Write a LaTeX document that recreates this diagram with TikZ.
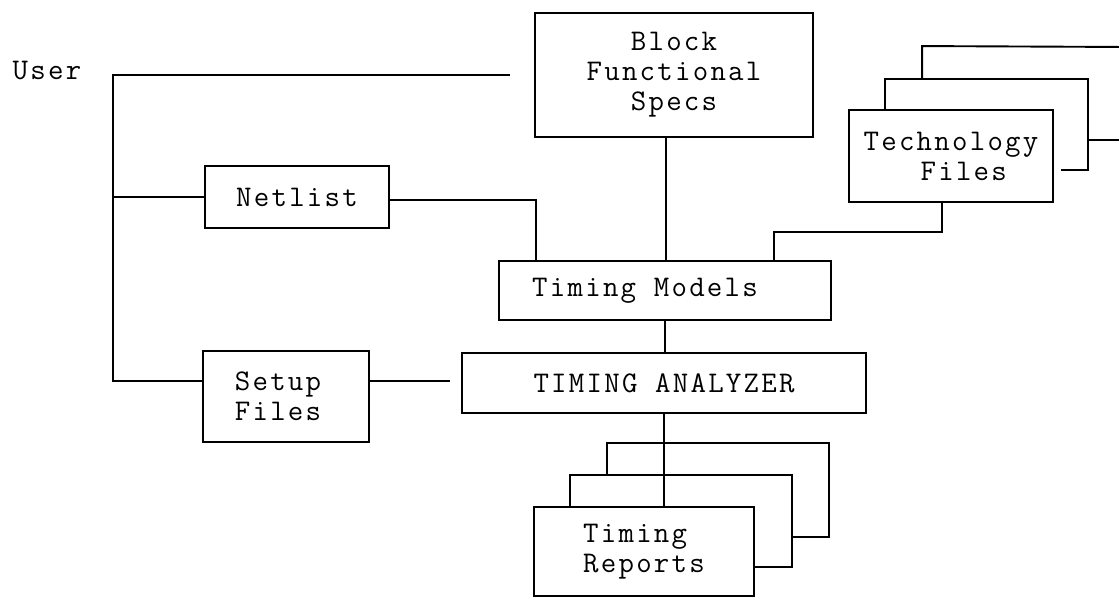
\documentclass[tikz,border=0pt]{standalone}
\usepackage{fontspec}
\newfontfamily\twfont[LetterSpace=7.5]{Latin Modern Mono}
\begin{document}
\begin{tikzpicture}[x=1pt,y=-1pt,
  line width=1.9pt,
  every node/.style={font=\twfont\fontsize{30}{30}\selectfont},
  box/.style={draw, line width=1.9pt, inner sep=0pt, align=center},
  lbl/.style={inner sep=0pt}]
\useasboundingbox (0,0) rectangle (1119,598);
% labels
\node[lbl] (user) at (47,71) {User};
% boxes
\node[box, minimum width=278pt, minimum height=124pt] (blk) at (674,75) {Block\\Functional\\Specs};
\node[box, minimum width=184pt, minimum height=62pt] (net) at (297,197) {Netlist};
\node[box, minimum width=204pt, minimum height=92pt, align=left] (tf) at (951,156) {Technology\\\hspace*{57pt}Files};
\node[box, minimum width=332pt, minimum height=59pt] (tm) at (665,290.5) {Timing Models\hspace*{40pt}};
\node[box, minimum width=404pt, minimum height=60pt] (ta) at (664,383) {TIMING ANALYZER};
\node[box, minimum width=166pt, minimum height=91pt, align=left] (setup) at (286,396.5) {Setup\\Files\hspace*{16pt}};
\node[box, minimum width=220pt, minimum height=89pt, align=left] (tr) at (644,551.5) {Timing\\Reports};
% free ends
\coordinate (uend) at (510,75);
\coordinate (bustop) at (113,75);
\coordinate (taend) at (450,381);
% user bus
\draw (uend) -- (bustop) |- ([yshift=15.5pt]setup.west);
\draw (bustop |- net.west) -- (net.west);
\draw ([yshift=15.5pt]setup.east) -- (taend);
% into timing models
\draw ([yshift=-3pt]net.east) -| ([xshift=38pt]tm.north west);
\draw ([xshift=-8pt]blk.south) -- ([xshift=-8pt]blk.south |- tm.north);
\draw ([xshift=-9pt]tf.south) -- ++(0,29) -| ([xshift=276pt]tm.north west);
\draw (tm.south) -- (tm.south |- ta.north);
\draw (ta.south) -- (ta.south |- tr.north);
% technology files stack
\draw ([xshift=37pt]tf.north west) -- ++(0,-30) -| ++(203,91) -- ++(-27,0);
\draw ([xshift=74pt]tf.north west) ++(0,-30) -- ++(0,-33) -- (1130,47);
\draw (1089,140) -- (1130,140);
% timing reports stack
\draw ([xshift=37pt]tr.north west) -- ++(0,-31) -| ++(222,92) -- ++(-39,0);
\draw ([xshift=74pt]tr.north west) ++(0,-31) -- ++(0,-32) -| ++(222,94) -- ++(-37,0);
\end{tikzpicture}
\end{document}
